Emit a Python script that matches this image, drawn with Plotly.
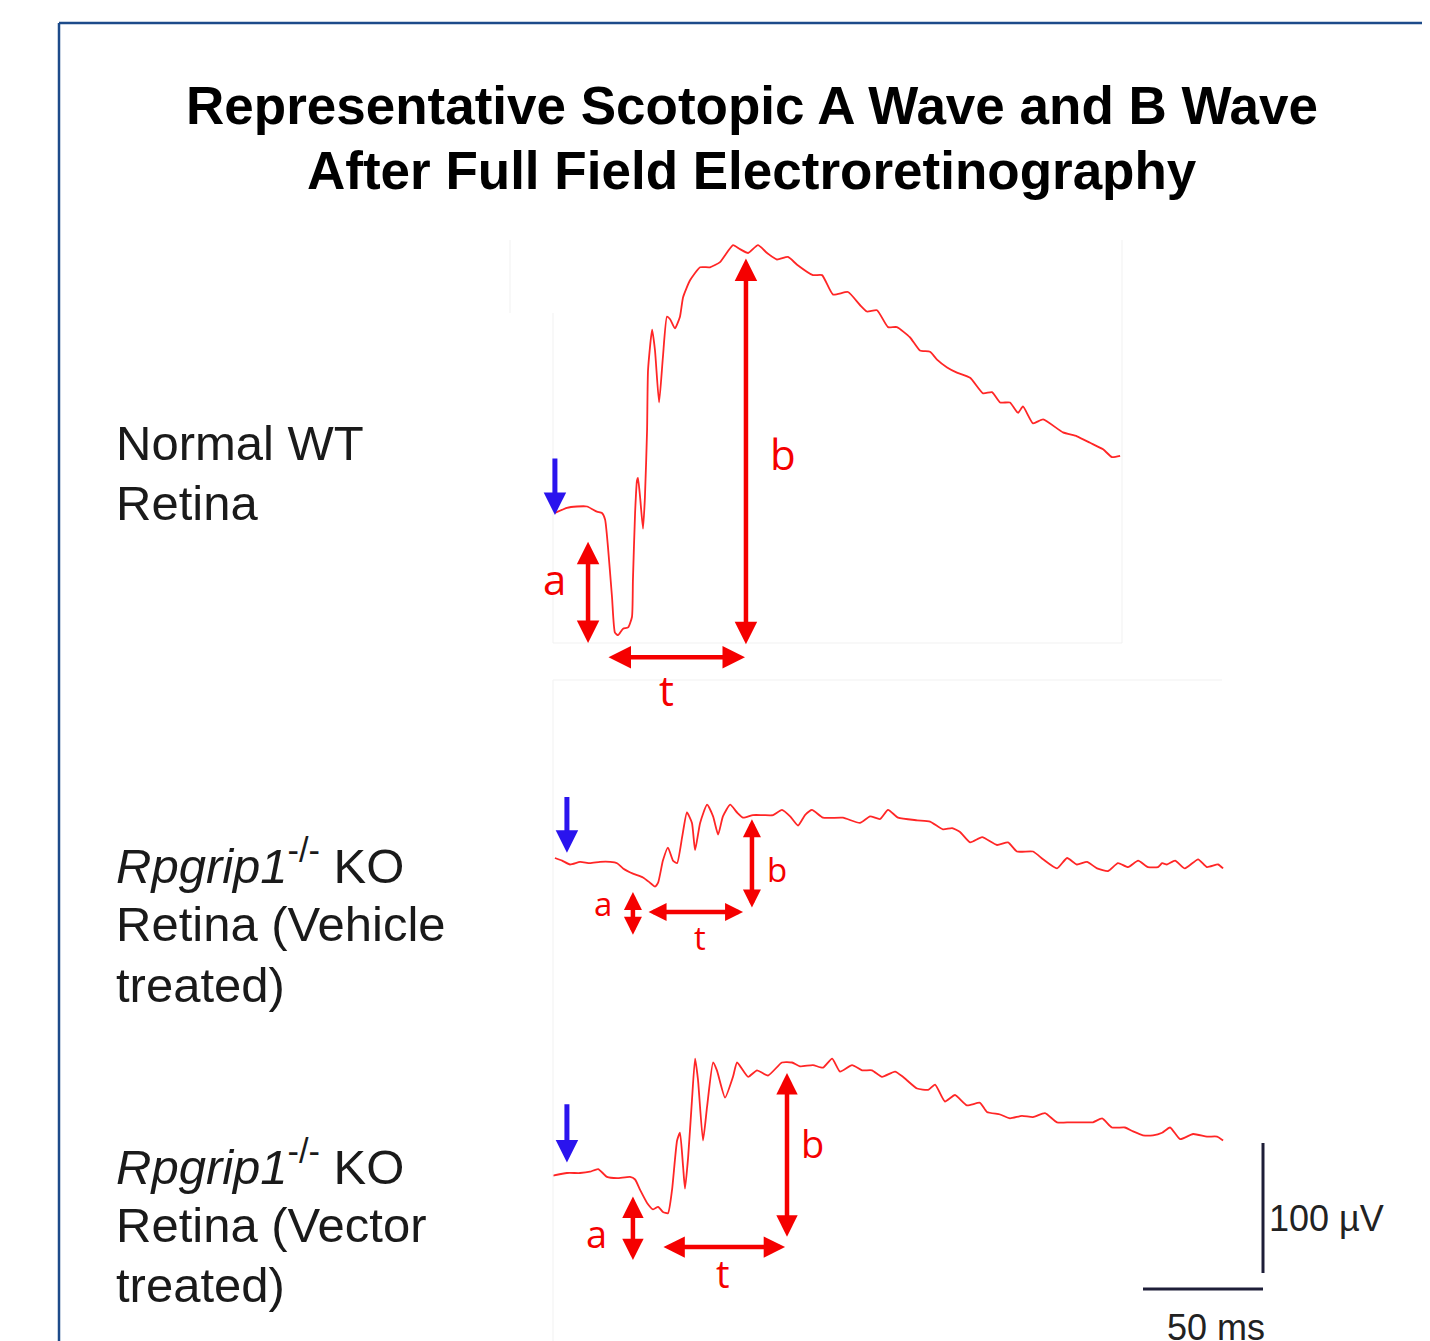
import plotly.graph_objects as go

# ---------------- data (time in ms after flash, amplitude in µV) ----------------
WT_T = [0.8, 5.8, 10.0, 14.2, 18.3, 20.4, 21.7, 22.9, 24.6, 25.8, 27.1, 29.2, 31.3, 32.9, 33.3,
        34.2, 35.0, 35.4, 36.3, 37.5, 38.3, 39.2, 39.6, 41.3, 42.5, 44.2, 45.8, 47.5, 48.8, 50.8,
        52.9, 54.2, 57.1, 61.3, 65.4, 69.6, 75.0, 77.9, 81.3, 85.4, 89.2, 93.3, 97.9, 101.7, 108.3,
        112.1, 116.7, 122.9, 127.9, 130.8, 135.0, 139.6, 143.3, 148.8, 152.9, 157.1, 160.0, 164.2,
        168.3, 173.8, 179.2, 182.9, 186.3, 190.4, 193.8, 195.8, 200.0, 204.2, 212.5, 218.3, 223.8,
        229.2, 232.9, 236.3]
WT_V = [0, 4, 5, 5, 1, 0, -5, -26, -65, -92, -94, -89, -88, -80, -52,
        0, 25, 27, 12, -12, 12, 64, 110, 141, 125, 85, 120, 151, 149, 142,
        151, 166, 179, 189, 189, 193, 206, 203, 200, 206, 200, 195, 197, 191, 183,
        183, 168, 170, 160, 155, 156, 143, 143, 135, 125, 124, 118, 112,
        108, 104, 92, 93, 85, 85, 77, 82, 69, 72, 62, 59, 54,
        49, 43, 44]

VEH_T = [0.8, 3.8, 7.1, 11.3, 15.4, 19.6, 23.8, 26.7, 29.2, 33.3, 37.5, 40.4, 42.5, 43.8, 45.8,
         47.9, 50.0, 51.7, 53.8, 55.8, 57.9, 59.2, 61.3, 64.2, 66.7, 68.8, 70.8, 73.8, 76.7, 79.2,
         83.3, 87.5, 91.7, 95.4, 98.8, 102.1, 105.0, 107.9, 112.5, 120.8, 127.9, 132.1, 136.3, 139.6,
         143.8, 151.7, 157.1, 162.5, 166.3, 169.6, 173.8, 178.8, 185.0, 189.6, 193.3, 200.0, 204.2,
         210.0, 214.2, 218.3, 222.5, 226.7, 231.3, 235.4, 239.6, 243.8, 247.9, 252.1, 253.8, 255.8,
         259.2, 263.3, 268.8, 272.5, 277.1, 279.2]
VEH_V = [0, -2, -5, -3, -4, -3, -3, -4, -8, -12, -15, -19, -22, -19, -2,
         8, -2, -4, 16, 35, 27, 6, 27, 41, 32, 18, 32, 41, 35, 31,
         33, 33, 33, 37, 32, 25, 33, 37, 31, 31, 27, 32, 30, 37,
         31, 29, 28, 22, 23, 20, 12, 16, 10, 12, 5, 5, -1,
         -8, 0, -5, -3, -8, -10, -4, -7, -2, -7, -7, -4, -5,
         -2, -8, -1, -7, -5, -8]

VEC_T = [0.0, 5.8, 11.3, 15.4, 18.8, 22.5, 26.7, 32.1, 34.2, 36.3, 39.2, 41.7, 43.8, 45.8, 47.9,
         49.6, 51.7, 52.9, 54.2, 55.0, 56.3, 57.9, 59.2, 60.4, 62.5, 64.2, 66.7, 68.3, 71.7, 75.0,
         76.7, 81.3, 85.0, 89.6, 95.4, 99.6, 102.9, 108.3, 112.5, 116.3, 119.6, 124.6, 128.8, 132.9,
         137.1, 142.5, 145.8, 151.7, 156.3, 159.2, 163.3, 167.5, 172.5, 177.9, 180.8, 186.3, 190.4,
         195.4, 200.0, 205.0, 210.0, 215.4, 220.8, 225.0, 228.8, 232.9, 238.3, 241.7, 245.8, 250.0,
         253.8, 257.1, 261.3, 266.7, 272.5, 276.7, 279.2]
VEC_V = [-2, 0, 0, 1, 3, -3, -4, -3, -5, -13, -23, -28, -26, -30, -31,
         -13, 25, 31, 5, -12, 12, 56, 88, 72, 25, 51, 85, 79, 58, 74,
         85, 74, 79, 75, 85, 85, 82, 83, 81, 88, 78, 83, 79, 79,
         74, 78, 74, 65, 64, 68, 55, 60, 52, 54, 47, 45, 42,
         44, 43, 46, 39, 39, 39, 39, 42, 35, 35, 32, 29, 29,
         31, 35, 26, 30, 28, 28, 25]

# annotation measurements: (time ms, amplitude from, amplitude to)
WT_STIM = (0.8, 43, -1.5)
WT_A = (14.6, -21, -100)
WT_B = (80.4, 197, -101)
WT_TT = (-111, 22.5, 80.0)     # (amplitude level, t from, t to)
VEH_STIM = (5.8, 48, 4)
VEH_A = (33.3, -25, -59)
VEH_B = (82.9, 31, -38)
VEH_TT = (-41.5, 39.2, 79.2)
VEC_STIM = (5.8, 54, 8)
VEC_A = (33.3, -17, -67)
VEC_B = (97.5, 78, -49)
VEC_TT = (-57, 45.4, 96.7)

SCALE_MS = 50
SCALE_UV = 100

TITLE_LINES = ["Representative Scotopic A Wave and B Wave",
               "After Full Field Electroretinography"]
LABEL_LINES = [
    ["Normal WT", "Retina"],
    ["<i>Rpgrip1</i><sup>-/-</sup> KO", "Retina (Vehicle", "treated)"],
    ["<i>Rpgrip1</i><sup>-/-</sup> KO", "Retina (Vector", "treated)"],
]

# ---------------- layout geometry (reference pixels) ----------------
W, H = 1430, 1341
OFF = 8          # page body margin
MS_PX = 2.4      # pixels per ms
UV_PX = 1.3      # pixels per µV
T0_PX = 553      # x pixel of flash onset
X_DOM = (540, 1310)
PANELS = [  # top px, bottom px, baseline px
    (225, 700, 513),
    (760, 1000, 858),
    (1030, 1341, 1173),
]
TITLE_Y = [105, 170]
LABEL_Y = [[443, 503], [862, 924, 985], [1163, 1225, 1285]]

RED = "#f50000"
TRACE_RED = "#ff2626"
BLUE = "#2a14ee"
DARK = "#1e1e38"


def py(p):
    return 1 - (p - OFF) / H


def px(p):
    return (p - OFF) / W


fig = go.Figure()

series = [(WT_T, WT_V), (VEH_T, VEH_V), (VEC_T, VEC_V)]
for i, (t, v) in enumerate(series):
    n = "" if i == 0 else str(i + 1)
    fig.add_trace(go.Scatter(x=t, y=v, mode="lines", xaxis="x" + n, yaxis="y" + n,
                             line=dict(color=TRACE_RED, width=1.8, shape="spline", smoothing=0.5),
                             hoverinfo="skip", showlegend=False))

xr = [(X_DOM[0] - T0_PX) / MS_PX, (X_DOM[1] - T0_PX) / MS_PX]
layout = dict(width=W, height=H, autosize=False, margin=dict(l=0, r=0, t=0, b=0),
              paper_bgcolor="white", plot_bgcolor="rgba(0,0,0,0)", showlegend=False)
for i, (top, bot, base) in enumerate(PANELS):
    n = "" if i == 0 else str(i + 1)
    layout["xaxis" + n] = dict(domain=[px(X_DOM[0]), px(X_DOM[1])], range=xr, visible=False,
                               anchor="y" + n, fixedrange=True)
    layout["yaxis" + n] = dict(domain=[max(0, py(bot)), py(top)],
                               range=[(base - bot) / UV_PX, (base - top) / UV_PX],
                               visible=False, anchor="x" + n, fixedrange=True)
fig.update_layout(**layout)

# scale bars in the third panel's coordinates
bar_t = (1263 - T0_PX) / MS_PX
bar_top = (1173 - 1143) / UV_PX
fig.add_trace(go.Scatter(x=[bar_t, bar_t], y=[bar_top, bar_top - SCALE_UV], mode="lines",
                         xaxis="x3", yaxis="y3", line=dict(color=DARK, width=3),
                         hoverinfo="skip", showlegend=False))
bar_y = (1173 - 1289) / UV_PX
fig.add_trace(go.Scatter(x=[bar_t - SCALE_MS, bar_t], y=[bar_y, bar_y], mode="lines",
                         xaxis="x3", yaxis="y3", line=dict(color=DARK, width=3),
                         hoverinfo="skip", showlegend=False))

ann = []


def arrow(n, x0, y0, x1, y1, color, both=True, width=4.5, size=1.0):
    ann.append(dict(x=x1, y=y1, ax=x0, ay=y0, xref="x" + n, yref="y" + n,
                    axref="x" + n, ayref="y" + n, text="", showarrow=True,
                    arrowhead=2, startarrowhead=2, arrowside="end+start" if both else "end",
                    arrowwidth=width, arrowsize=size, startarrowsize=size, arrowcolor=color,
                    standoff=0, startstandoff=0))


def label(n, x, y, s, size):
    ann.append(dict(x=x, y=y, xref="x" + n, yref="y" + n, text=s, showarrow=False,
                    font=dict(family="Open Sans", size=size, color=RED),
                    xanchor="center", yanchor="middle"))


panels = [
    ("", WT_STIM, WT_A, WT_B, WT_TT, 42, 1.0,
     [(0.8, -50, "a"), (95.8, 46, "b"), (47.1, -136, "t")]),
    ("2", VEH_STIM, VEH_A, VEH_B, VEH_TT, 33, 0.8,
     [(20.8, -35, "a"), (93.3, -9, "b"), (61.3, -61, "t")]),
    ("3", VEC_STIM, VEC_A, VEC_B, VEC_TT, 38, 0.95,
     [(18.3, -46, "a"), (108.3, 23, "b"), (70.8, -77, "t")]),
]
for n, stim, a, b, tt, fs, hs, labs in panels:
    arrow(n, stim[0], stim[1], stim[0], stim[2], BLUE, both=False, width=5, size=0.9)
    arrow(n, a[0], a[1], a[0], a[2], RED, size=hs)
    arrow(n, b[0], b[1], b[0], b[2], RED, size=hs)
    arrow(n, tt[1], tt[0], tt[2], tt[0], RED, size=hs)
    for x, y, s in labs:
        label(n, x, y, s, fs)

# scale bar texts
ann.append(dict(x=bar_t + 1.5, y=(1173 - 1218) / UV_PX, xref="x3", yref="y3",
                text=f"{SCALE_UV} µV", showarrow=False, xanchor="left", yanchor="middle",
                font=dict(family="Liberation Sans", size=36, color="#222222")))
ann.append(dict(x=bar_t - SCALE_MS / 2 + 5.5, y=(1173 - 1327) / UV_PX, xref="x3", yref="y3",
                text=f"{SCALE_MS} ms", showarrow=False, xanchor="center", yanchor="middle",
                font=dict(family="Liberation Sans", size=36, color="#222222")))

# title (one annotation per line)
for s, yc in zip(TITLE_LINES, TITLE_Y):
    ann.append(dict(x=px(752), y=py(yc), xref="paper", yref="paper", text="<b>" + s + "</b>",
                    showarrow=False, xanchor="center", yanchor="middle",
                    font=dict(family="Liberation Sans", size=53, color="black")))

# row labels (one annotation per line)
for lines, ys in zip(LABEL_LINES, LABEL_Y):
    for s, yc in zip(lines, ys):
        ann.append(dict(x=px(114), y=py(yc), xref="paper", yref="paper", text=s,
                        showarrow=False, xanchor="left", yanchor="middle", align="left",
                        font=dict(family="Liberation Sans", size=49, color="#1a1a1a")))

fig.update_layout(annotations=ann)

# frame and faint image edges
shapes = [
    dict(type="line", xref="paper", yref="paper", x0=px(59), x1=px(1450), y0=py(23), y1=py(23),
         line=dict(color="#1d4b8a", width=2.5)),
    dict(type="line", xref="paper", yref="paper", x0=px(59), x1=px(59), y0=py(23), y1=py(1360),
         line=dict(color="#1d4b8a", width=2.5)),
]
faint = [((510, 240), (510, 313)), ((553, 313), (553, 643)), ((553, 643), (1122, 643)),
         ((1122, 240), (1122, 643)), ((553, 680), (1222, 680)), ((553, 680), (553, 1341))]
for (x0, y0), (x1, y1) in faint:
    shapes.append(dict(type="line", xref="paper", yref="paper", x0=px(x0), x1=px(x1),
                       y0=py(y0), y1=py(y1), line=dict(color="#f1f1f1", width=1)))
fig.update_layout(shapes=shapes)

fig.write_html("out.html")
